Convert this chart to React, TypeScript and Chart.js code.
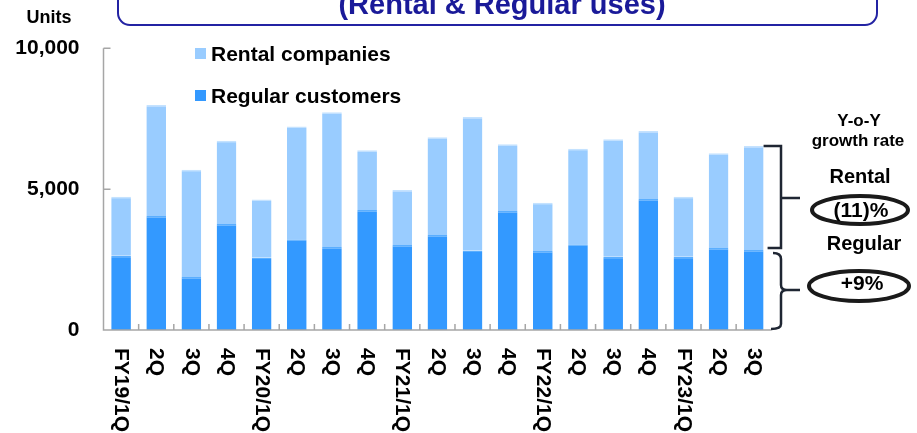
import React, { useEffect, useRef } from "react";
import { Chart, registerables } from "chart.js";

Chart.register(...registerables);

const categories = [
  "FY19/1Q", "2Q", "3Q", "4Q",
  "FY20/1Q", "2Q", "3Q", "4Q",
  "FY21/1Q", "2Q", "3Q", "4Q",
  "FY22/1Q", "2Q", "3Q", "4Q",
  "FY23/1Q", "2Q", "3Q",
];
const regularCustomers = [2640, 4050, 1880, 3760, 2570, 3220, 2950, 4260, 3020, 3370, 2820, 4220, 2800, 3040, 2600, 4650, 2600, 2910, 2840];
const rentalCompanies = [2090, 3940, 3810, 2960, 2060, 4000, 4780, 2120, 1950, 3470, 4740, 2370, 1720, 3390, 4170, 2410, 2130, 3360, 3690];
const yTicks = [0, 5000, 10000];
const titleText = "(Rental & Regular uses)";
const unitText = "Units";
const legendLabels = ["Rental companies", "Regular customers"];
const growthHeader = ["Y-o-Y", "growth rate"];
const growthLabels = ["Rental", "Regular"];
const growthValues = ["(11)%", "+9%"];

const RENTAL_COLOR = "#99CCFF";
const REGULAR_COLOR = "#3399FF";
const FONT = "Arial, 'Liberation Sans', sans-serif";

const overlayPlugin = {
  id: "overlay",
  afterDraw(chart: any) {
    const ctx = chart.ctx;
    const area = chart.chartArea;
    const xs = chart.scales.x;
    const ys = chart.scales.y;
    ctx.save();

    // Axes
    ctx.strokeStyle = "#A6A6A6";
    ctx.lineWidth = 1.5;
    ctx.beginPath();
    ctx.moveTo(area.left, area.top);
    ctx.lineTo(area.left, area.bottom);
    ctx.lineTo(area.right, area.bottom);
    ctx.stroke();
    ctx.beginPath();
    yTicks.forEach((v) => {
      const py = ys.getPixelForValue(v);
      if (v === 0) return;
      ctx.moveTo(area.left, py);
      ctx.lineTo(area.left + 7, py);
    });
    const n = categories.length;
    const step = (area.right - area.left) / n;
    for (let i = 1; i < n; i++) {
      const px = area.left + i * step;
      ctx.moveTo(px, area.bottom);
      ctx.lineTo(px, area.bottom - 6);
    }
    ctx.stroke();

    // X labels rotated (top-to-bottom)
    ctx.fillStyle = "#000";
    ctx.font = `bold 21px ${FONT}`;
    ctx.textAlign = "left";
    ctx.textBaseline = "middle";
    categories.forEach((c, i) => {
      const px = xs.getPixelForValue(i);
      ctx.save();
      ctx.translate(px, area.bottom + 18);
      ctx.rotate(Math.PI / 2);
      ctx.fillText(c, 0, 0);
      ctx.restore();
    });

    // Title box
    ctx.strokeStyle = "#2323A3";
    ctx.lineWidth = 2;
    ctx.beginPath();
    (ctx as any).roundRect(118, -30, 759, 55, 12);
    ctx.stroke();
    ctx.fillStyle = "#1A1A99";
    ctx.font = `bold 29px ${FONT}`;
    ctx.textAlign = "center";
    ctx.textBaseline = "alphabetic";
    ctx.fillText(titleText, 502, 14);

    // Units
    ctx.fillStyle = "#000";
    ctx.font = `bold 18px ${FONT}`;
    ctx.fillText(unitText, 49, 23);

    // Legend
    ctx.textAlign = "left";
    ctx.font = `bold 21px ${FONT}`;
    ctx.fillStyle = RENTAL_COLOR;
    ctx.fillRect(195, 48, 11, 11);
    ctx.fillStyle = REGULAR_COLOR;
    ctx.fillRect(195, 90, 11, 11);
    ctx.fillStyle = "#000";
    ctx.fillText(legendLabels[0], 211, 61);
    ctx.fillText(legendLabels[1], 211, 103);

    // Brackets based on last bar
    const last = n - 1;
    const meta = chart.getDatasetMeta(1);
    const el = meta.data[last];
    const barRight = el.x + el.width / 2;
    const yTop = ys.getPixelForValue(regularCustomers[last] + rentalCompanies[last]);
    const yMid = ys.getPixelForValue(regularCustomers[last]);
    const yBot = ys.getPixelForValue(0);
    const bx = 781;
    ctx.strokeStyle = "#1F2633";
    ctx.lineWidth = 2.5;
    ctx.beginPath();
    ctx.moveTo(barRight, yTop);
    ctx.lineTo(bx, yTop);
    ctx.lineTo(bx, yMid - 2);
    ctx.lineTo(barRight + 4, yMid - 2);
    const rm = (yTop + yMid) / 2;
    ctx.moveTo(bx, rm);
    ctx.lineTo(800, rm);
    ctx.stroke();

    const gm = (yMid + yBot) / 2;
    ctx.beginPath();
    ctx.moveTo(773, yMid + 3);
    ctx.quadraticCurveTo(bx, yMid + 3, bx, yMid + 9);
    ctx.lineTo(bx, gm - 5);
    ctx.quadraticCurveTo(bx, gm, bx + 6, gm);
    ctx.lineTo(800, gm);
    ctx.moveTo(bx + 6, gm);
    ctx.quadraticCurveTo(bx, gm, bx, gm + 5);
    ctx.lineTo(bx, yBot - 6);
    ctx.quadraticCurveTo(bx, yBot - 1, 771, yBot - 1);
    ctx.stroke();

    // Growth annotations
    ctx.fillStyle = "#000";
    ctx.textAlign = "center";
    ctx.textBaseline = "alphabetic";
    ctx.font = `bold 17px ${FONT}`;
    ctx.fillText(growthHeader[0], 859, 126);
    ctx.fillText(growthHeader[1], 858, 146);
    ctx.font = `bold 20px ${FONT}`;
    ctx.fillText(growthLabels[0], 860, 183);
    ctx.fillText(growthLabels[1], 864, 250);

    ctx.strokeStyle = "#1A1A1A";
    ctx.lineWidth = 4;
    ctx.beginPath();
    ctx.ellipse(860, 210, 48, 14, 0, 0, Math.PI * 2);
    ctx.stroke();
    ctx.beginPath();
    ctx.ellipse(859, 286, 50, 15, 0, 0, Math.PI * 2);
    ctx.stroke();

    ctx.font = `bold 21px ${FONT}`;
    ctx.textBaseline = "middle";
    ctx.fillText(growthValues[0], 861, 211);
    ctx.fillText(growthValues[1], 862, 284);

    ctx.restore();
  },
};

export default function App() {
  const ref = useRef<HTMLCanvasElement | null>(null);
  useEffect(() => {
    if (!ref.current) return;
    const chart = new Chart(ref.current, {
      type: "bar",
      data: {
        labels: categories,
        datasets: [
          {
            label: "Regular customers",
            data: regularCustomers,
            backgroundColor: REGULAR_COLOR,
            borderColor: "#5AAEFF",
            borderWidth: { top: 1.5, left: 0, right: 0, bottom: 0 },
            borderSkipped: false,
            barPercentage: 0.56,
            categoryPercentage: 1,
          },
          {
            label: "Rental companies",
            data: rentalCompanies,
            backgroundColor: RENTAL_COLOR,
            borderColor: "#C4E2FF",
            borderWidth: { top: 1.5, left: 0, right: 0, bottom: 0 },
            borderSkipped: false,
            barPercentage: 0.56,
            categoryPercentage: 1,
          },
        ],
      },
      options: {
        responsive: false,
        animation: false,
        devicePixelRatio: 1,
        layout: { padding: { left: 0, right: 145.7, top: 48.3, bottom: 103 } },
        plugins: { legend: { display: false }, tooltip: { enabled: false }, title: { display: false } },
        scales: {
          x: {
            stacked: true,
            grid: { display: false },
            border: { display: false },
            ticks: { display: false },
            afterFit: (s: any) => { s.height = 0; },
          },
          y: {
            stacked: true,
            min: 0,
            max: 10000,
            afterBuildTicks: (s: any) => { s.ticks = yTicks.map((v) => ({ value: v })); },
            grid: { display: false, drawTicks: false },
            border: { display: false },
            ticks: {
              padding: 24,
              color: "#000",
              font: { family: FONT, size: 21, weight: "bold" },
              callback: (v: any) => Number(v).toLocaleString("en-US"),
            },
            afterFit: (s: any) => { s.width = 103.5; },
          },
        },
      },
      plugins: [overlayPlugin],
    });
    return () => chart.destroy();
  }, []);
  return (
    <div style={{ position: "fixed", left: 0, top: 0, width: 917, height: 433, background: "#fff" }}>
      <canvas ref={ref} width={917} height={433} style={{ width: 917, height: 433, display: "block" }} />
    </div>
  );
}
